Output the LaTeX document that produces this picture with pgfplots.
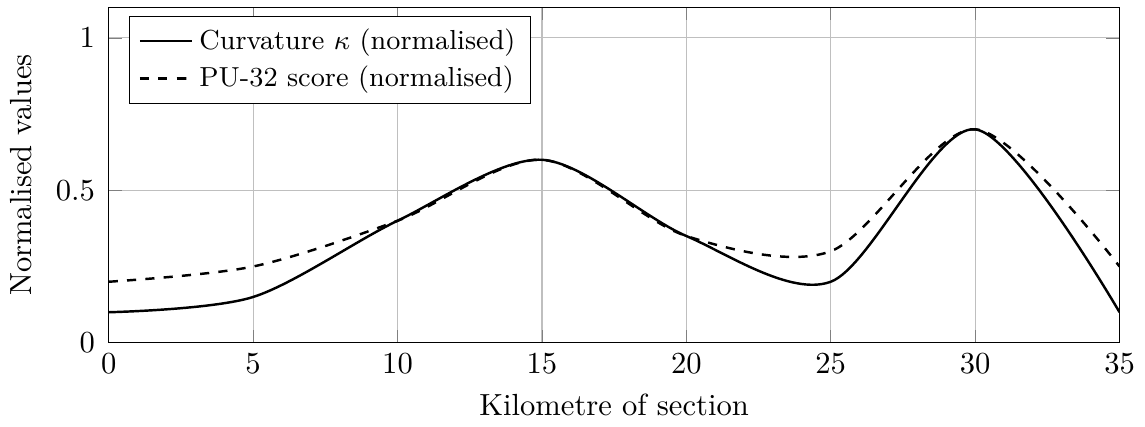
\documentclass[border=0pt]{standalone}
\usepackage{pgfplots}
\pgfplotsset{compat=1.18}
\begin{document}
\begin{tikzpicture}
\begin{axis}[
  scale only axis,
  width=330.6pt, height=109.7pt,
  xmin=0, xmax=35, ymin=0, ymax=1.1,
  xtick={0,5,10,15,20,25,30,35},
  ytick={0,0.5,1},
  grid=major,
  grid style={lightgray},
  xlabel={Kilometre of section},
  ylabel={Normalised values},
  ylabel shift=1pt,
  yticklabel style={xshift=-1pt},
  legend style={at={(0.02,0.975)}, anchor=north west, font=\small},
  legend cell align=left,
]
\addplot[thick, smooth, black] coordinates {
(0,0.10) (5,0.15) (10,0.40) (15,0.60) (20,0.35) (25,0.20) (30,0.70) (35,0.10)};
\addlegendentry{Curvature $\kappa$ (normalised)}
\addplot[thick, smooth, dashed, black] coordinates {
(0,0.20) (5,0.25) (10,0.40) (15,0.60) (20,0.35) (25,0.30) (30,0.70) (35,0.25)};
\addlegendentry{PU-32 score (normalised)}
\end{axis}
\path ([shift={(0pt,2.2pt)}]current bounding box.north east);
\end{tikzpicture}
\end{document}
